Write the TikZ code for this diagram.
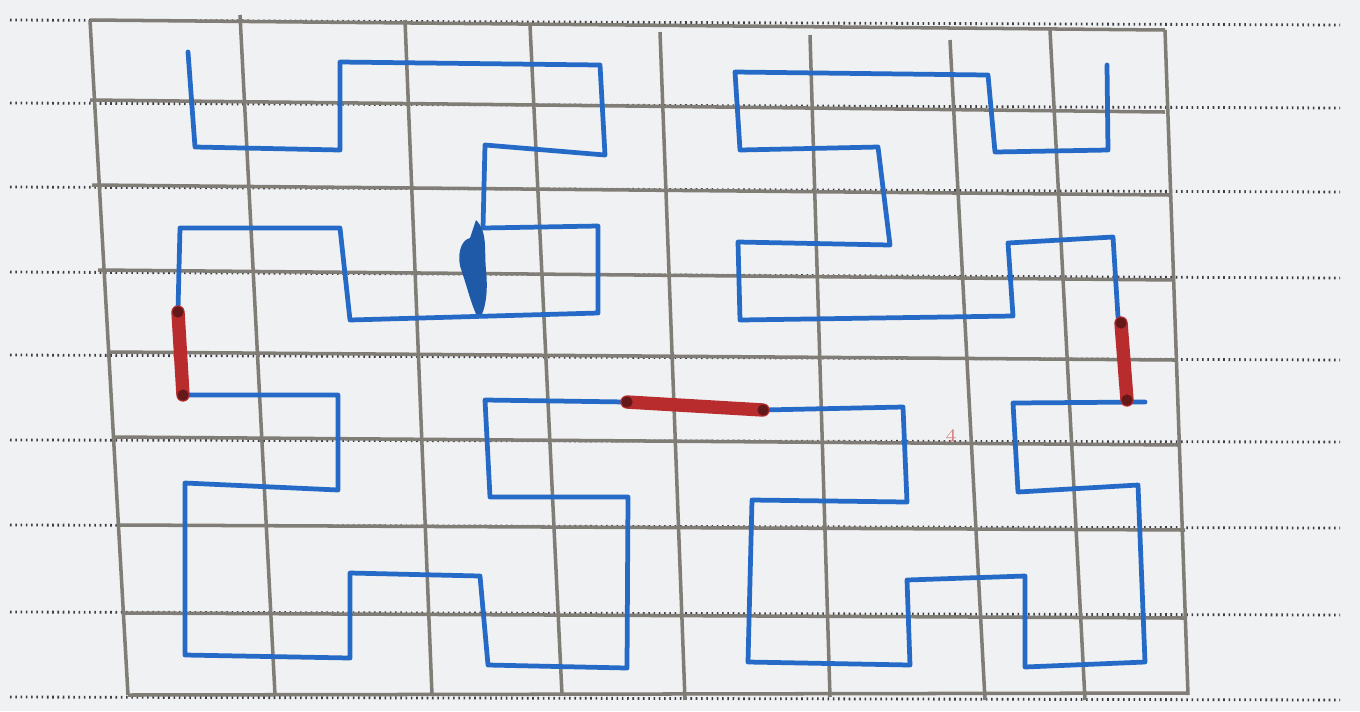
\documentclass[tikz,border=0pt]{standalone}
\usepackage{tikz}
\definecolor{paper}{RGB}{240,241,243}
\definecolor{penB}{RGB}{36,106,198}
\definecolor{penR}{RGB}{184,44,46}
\definecolor{pencil}{RGB}{128,124,118}
\definecolor{rule}{RGB}{60,60,66}

\begin{document}
\begin{tikzpicture}[x=0.01cm,y=-0.01cm,
  gridline/.style={pencil,line width=1pt},
  ruled/.style={rule,line width=0.8pt,dash pattern=on 0.45pt off 1.05pt},
  curve/.style={penB,line width=1.35pt,line join=round,line cap=round},
  joint/.style={penR,line width=3.8pt,line cap=round}]
\fill[paper] (0,0) rectangle (1360,711);
\useasboundingbox (0,0) rectangle (1360,711);
% ruled lines of the page
\foreach \yl/\yr in {20/25,103/108,187/192,272/278,355/360,440/442,525/528,612/615,697/700}
  \draw[ruled] (10,\yl) -- (1340,\yr);
% hand drawn 8x8 grid
\foreach \a/\b/\c/\d in {90/20/128/695,240/15/275/695,405/20/432/695,530/25/562/695,
    660/32/685/700,810/35/830/697,950/40/985/700,1050/30/1085/700,1165/30/1188/695}
  \draw[gridline] (\a,\b) -- (\c,\d);
\foreach \a/\b/\c/\d in {90/20/1165/30,90/100/1165/112,92/185/1170/195,98/270/1175/280,
    110/352/1175/360,115/437/1180/445,120/525/1185/530,125/613/1185/618,128/695/1188/693}
  \draw[gridline] (\a,\b) -- (\c,\d);
% blue quarters
\draw[curve] (188,52) -- (195,147) -- (340,150) -- (340,62) -- (600,65) -- (605,155)
  -- (485,145) -- (483,228) -- (598,226) -- (598,313) -- (350,320) -- (340,228)
  -- (180,228) -- (178,310);
\fill[penB!85!black] (476,220) .. controls (488,232) and (484,250) .. (486,270)
  .. controls (488,290) and (486,305) .. (482,314) -- (476,314)
  .. controls (470,300) and (468,290) .. (462,272)
  .. controls (456,258) and (460,240) .. (470,238) -- cycle;
\draw[curve] (183,395) -- (338,395) -- (338,490) -- (185,483) -- (185,655) -- (350,658)
  -- (350,573) -- (480,576) -- (488,665) -- (627,668) -- (628,497) -- (490,497)
  -- (485,400) -- (627,402);
\draw[curve] (763,410) -- (903,407) -- (907,502) -- (752,500) -- (748,662) -- (910,665)
  -- (907,580) -- (1025,576) -- (1025,667) -- (1145,662) -- (1138,485) -- (1018,492)
  -- (1013,403) -- (1145,402);
\draw[curve] (1118,317) -- (1113,237) -- (1008,243) -- (1013,316) -- (740,320) -- (738,242)
  -- (890,245) -- (878,147) -- (740,150) -- (735,72) -- (988,75) -- (995,152)
  -- (1108,150) -- (1107,65);
% red joins
\draw[joint] (178,312) -- (183,395);
\draw[joint] (627,402) -- (763,410);
\draw[joint] (1121,323) -- (1127,400);
\foreach \p in {(178,312),(183,395),(627,402),(763,410),(1121,323),(1127,400)}
  \fill[penR!55!black] \p circle (1.6pt);
\node[penR!60,font=\tiny,inner sep=0pt] (mark) at (951,436) {4};
\end{tikzpicture}
\end{document}
